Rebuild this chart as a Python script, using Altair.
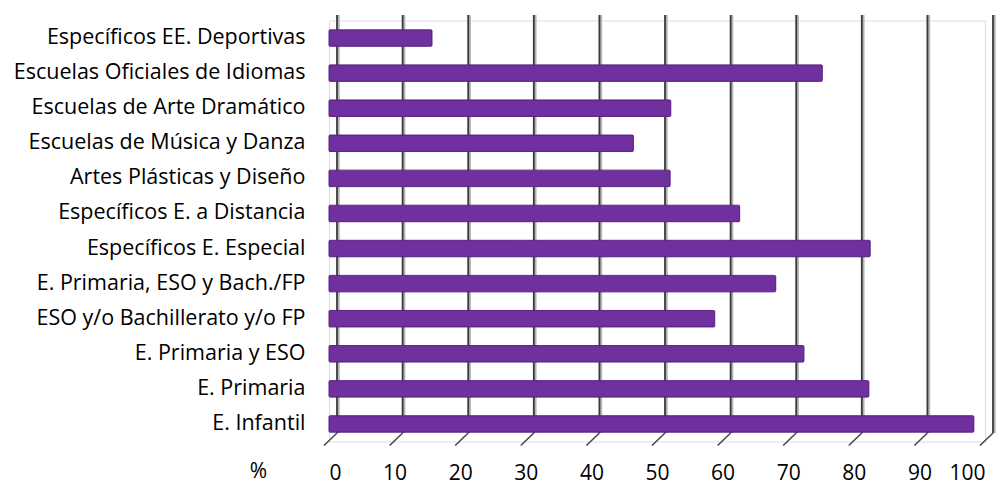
import altair as alt
import pandas as pd

# Share of centres (%) by type of teaching, top to bottom
categories = [
    "Específicos EE. Deportivas",
    "Escuelas Oficiales de Idiomas",
    "Escuelas de Arte Dramático",
    "Escuelas de Música y Danza",
    "Artes Plásticas y Diseño",
    "Específicos E. a Distancia",
    "Específicos E. Especial",
    "E. Primaria, ESO y Bach./FP",
    "ESO y/o Bachillerato y/o FP",
    "E. Primaria y ESO",
    "E. Primaria",
    "E. Infantil",
]
values = [15.7, 75.2, 52.1, 46.4, 52.0, 62.6, 82.5, 68.1, 58.8, 72.4, 82.3, 98.3]
tick_values = [0, 10, 20, 30, 40, 50, 60, 70, 80, 90, 100]

bars_df = pd.DataFrame({"cat": categories, "pct": values})
grid_df = pd.DataFrame({"g": tick_values})

FONT = "Open Sans"
PURPLE = "#7030A0"

x_scale = alt.Scale(domain=[0, 100], nice=False)
y_scale = alt.Scale(domain=categories, paddingInner=0.53, paddingOuter=0.265)

# back-wall gridlines, drawn slightly to the right of the front plane
grid_shadow = alt.Chart(grid_df).mark_rule(color="#b5b5b5", strokeWidth=2.5, xOffset=9.5).encode(
    x=alt.X("g:Q", scale=x_scale),
    y=alt.value(-5.5),
    y2=alt.value(412.5),
)
grid = alt.Chart(grid_df).mark_rule(color="#3a3a3a", strokeWidth=1.8, xOffset=8).encode(
    x=alt.X("g:Q", scale=x_scale),
    y=alt.value(-5.5),
    y2=alt.value(412.5),
)
# slanted floor ticks at the foot of each gridline
floor = alt.Chart(grid_df).mark_rule(color="#4a4a4a", strokeWidth=1.6, xOffset=8, x2Offset=-5).encode(
    x=alt.X("g:Q", scale=x_scale),
    x2="g:Q",
    y=alt.value(412.5),
    y2=alt.value(425),
)

bars = alt.Chart(bars_df).mark_bar(
    color=PURPLE, stroke="#5a2485", strokeWidth=1, cornerRadius=1
).encode(
    y=alt.Y(
        "cat:N",
        sort=categories,
        scale=y_scale,
        axis=alt.Axis(
            title=None, domain=False, ticks=False, labelPadding=24,
            labelFont=FONT, labelFontSize=21.5, labelColor="#000000", labelLimit=400,
        ),
    ),
    x=alt.X(
        "pct:Q",
        scale=x_scale,
        axis=alt.Axis(
            values=tick_values, grid=False, domain=False, ticks=False,
            labelPadding=21, labelFont=FONT, labelFontSize=21, labelColor="#000000",
            title="%", titleFont=FONT, titleFontSize=21, titleFontWeight="normal",
            titleColor="#000000", titleX=-71, titleY=30, titleBaseline="middle",
            titleAlign="center", titleAnchor="start",
        ),
    ),
)

chart = (
    alt.layer(grid_shadow, grid, floor, bars)
    .properties(
        width=656,
        height=421,
        autosize=alt.AutoSizeParams(type="none"),
        padding={"left": 329, "top": 20.5, "right": 21, "bottom": 45.5},
    )
    .configure_view(stroke=None)
    .configure(background="#ffffff")
)

chart.save("out.html", embed_options={"renderer": "svg", "actions": False})
